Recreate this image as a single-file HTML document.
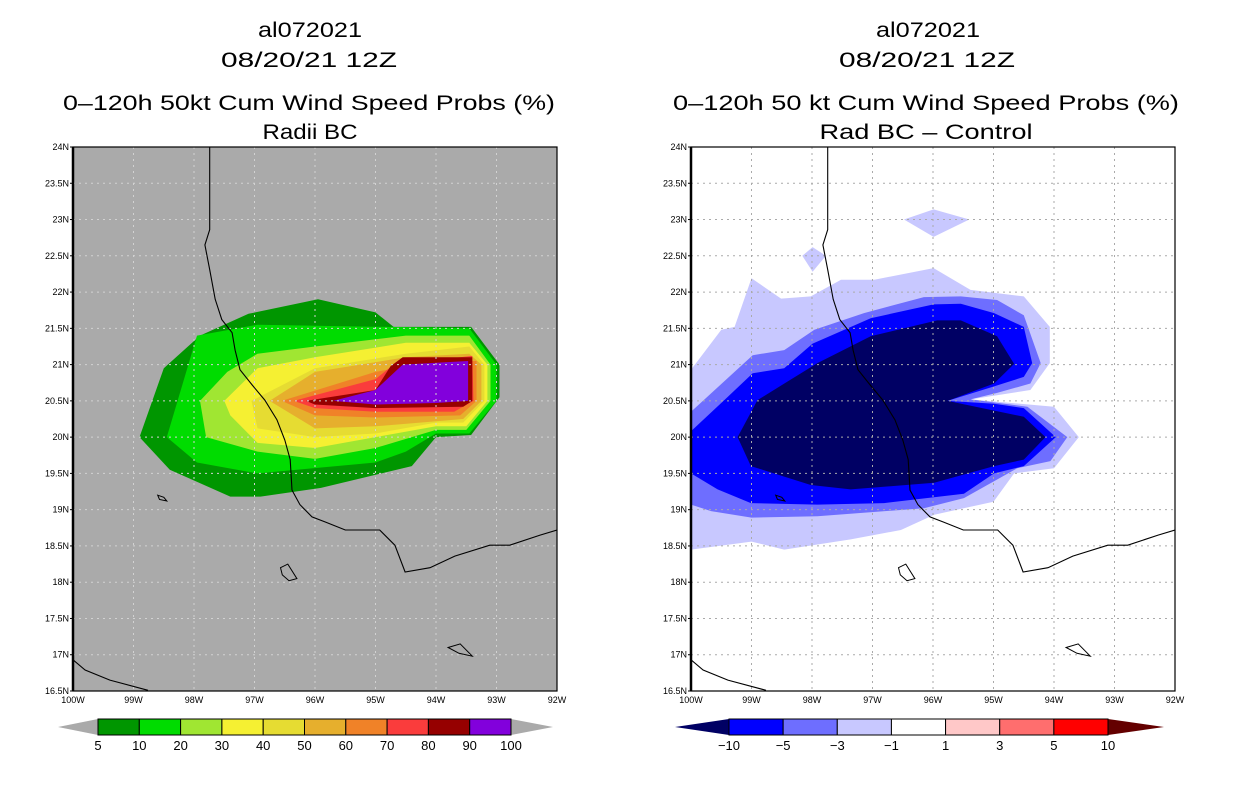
<!DOCTYPE html>
<html><head><meta charset="utf-8"><style>
body{margin:0;background:#fff;}
svg{display:block;font-family:"Liberation Sans",sans-serif;}
</style></head><body>
<svg id="c" width="1236" height="800" xmlns="http://www.w3.org/2000/svg">
<g id="left-titles" font-size="21" text-anchor="middle" fill="#000">
<text x="310" y="37" textLength="104" lengthAdjust="spacingAndGlyphs">al072021</text>
<text x="309" y="67" textLength="176" lengthAdjust="spacingAndGlyphs">08/20/21 12Z</text>
<text x="309" y="110" textLength="492" lengthAdjust="spacingAndGlyphs">0–120h 50kt Cum Wind Speed Probs (%)</text>
<text x="310" y="139" textLength="95" lengthAdjust="spacingAndGlyphs">Radii BC</text>
</g>
<g id="right-titles" font-size="21" text-anchor="middle" fill="#000">
<text x="928" y="37" textLength="104" lengthAdjust="spacingAndGlyphs">al072021</text>
<text x="927" y="67" textLength="176" lengthAdjust="spacingAndGlyphs">08/20/21 12Z</text>
<text x="926" y="110" textLength="506" lengthAdjust="spacingAndGlyphs">0–120h 50 kt Cum Wind Speed Probs (%)</text>
<text x="926" y="139" textLength="213" lengthAdjust="spacingAndGlyphs">Rad BC – Control</text>
</g>
</svg>
<script>
const lonTicks=[-100,-99,-98,-97,-96,-95,-94,-93,-92];
const lonLabels=["100W","99W","98W","97W","96W","95W","94W","93W","92W"];
const latTicks=[16.5,17,17.5,18,18.5,19,19.5,20,20.5,21,21.5,22,22.5,23,23.5,24];
const latLabels=["16.5N","17N","17.5N","18N","18.5N","19N","19.5N","20N","20.5N","21N","21.5N","22N","22.5N","23N","23.5N","24N"];
const leftLevels=[5,10,20,30,40,50,60,70,80,90,100];
const leftColors=["#009600","#00dc00","#a0e632","#f5f032","#e6dc32","#e6af2d","#f08228","#fa3c3c","#960000","#8200dc"];
const rightLevels=[-10,-5,-3,-1,1,3,5,10];
const rightColors=["#000064","#0000ff","#6e6eff","#c8c8ff","#ffffff","#ffc8c8","#ff6e6e","#ff0000","#640000"];
const probPoly5=[[-98.9,20.0],[-98.5,20.95],[-97.9,21.4],[-97.1,21.7],[-95.95,21.9],[-95.0,21.72],[-94.7,21.52],[-93.42,21.52],[-92.95,21.0],[-92.95,20.55],[-93.42,20.03],[-94.0,20.0],[-94.2,19.8],[-94.4,19.6],[-95.9,19.3],[-96.9,19.18],[-97.4,19.18],[-98.4,19.55]];
const probPoly10=[[-98.45,20.0],[-97.95,21.4],[-96.95,21.55],[-93.45,21.5],[-93.0,21.0],[-93.0,20.5],[-93.45,20.05],[-94.0,20.05],[-94.5,19.8],[-95.0,19.65],[-96.95,19.5],[-97.95,19.65]];
const probPoly20=[[-97.9,20.5],[-97.45,20.9],[-96.95,21.15],[-96.0,21.25],[-94.5,21.4],[-93.45,21.4],[-93.1,21.0],[-93.1,20.5],[-93.5,20.1],[-94.0,20.1],[-95.0,19.85],[-96.0,19.7],[-96.95,19.8],[-97.8,20.0]];
const probPoly30=[[-97.5,20.5],[-96.95,20.95],[-96.0,21.1],[-94.5,21.3],[-93.45,21.3],[-93.15,21.0],[-93.15,20.5],[-93.5,20.15],[-94.0,20.15],[-95.0,20.0],[-96.0,19.85],[-96.95,19.92],[-97.4,20.3]];
const probPoly40=[[-97.05,20.5],[-96.0,20.95],[-94.5,21.15],[-93.45,21.25],[-93.2,21.0],[-93.2,20.5],[-93.55,20.2],[-94.0,20.2],[-95.0,20.05],[-96.0,20.0],[-96.95,20.12]];
const probPoly50=[[-96.75,20.5],[-96.0,20.9],[-94.5,21.1],[-93.45,21.15],[-93.25,21.0],[-93.25,20.5],[-93.55,20.25],[-95.0,20.15],[-96.0,20.12]];
const probPoly60=[[-96.55,20.5],[-95.0,20.9],[-94.0,21.05],[-93.33,21.05],[-93.33,20.5],[-93.6,20.3],[-95.0,20.27],[-96.0,20.3]];
const probPoly70=[[-96.35,20.5],[-95.0,20.8],[-94.7,21.0],[-93.4,21.12],[-93.38,20.5],[-93.7,20.35],[-95.0,20.35],[-96.0,20.4]];
const probPoly80=[[-96.15,20.5],[-95.0,20.65],[-94.75,20.98],[-94.55,21.1],[-93.4,21.1],[-93.4,20.5],[-93.55,20.42],[-95.0,20.4],[-96.0,20.45]];
const probPoly90=[[-95.7,20.5],[-95.0,20.65],[-94.55,21.0],[-93.47,21.05],[-93.47,20.5],[-94.0,20.47],[-95.0,20.45]];
const leftPolys=[probPoly5,probPoly10,probPoly20,probPoly30,probPoly40,probPoly50,probPoly60,probPoly70,probPoly80,probPoly90];
const diffPolyM1=[[-100,20.93],[-99.5,21.48],[-99.28,21.52],[-99.0,22.19],[-98.51,21.91],[-98.02,21.94],[-97.52,22.17],[-96.97,22.17],[-95.99,22.33],[-95.38,22.03],[-94.5,21.94],[-94.07,21.52],[-94.07,21.02],[-94.39,20.65],[-95.38,20.52],[-94.0,20.42],[-93.59,20.0],[-94.0,19.57],[-94.66,19.5],[-95.0,19.11],[-95.98,18.93],[-96.53,18.72],[-97.36,18.59],[-98.46,18.45],[-99.0,18.56],[-100,18.45]];
const diffPatchA=[[-96.48,23.0],[-95.99,23.14],[-95.4,23.0],[-95.99,22.76]];
const diffPatchB=[[-98.16,22.5],[-97.99,22.62],[-97.77,22.5],[-97.99,22.28]];
const diffPolyM3=[[-100,20.35],[-99.45,20.77],[-98.98,21.13],[-98.46,21.2],[-97.96,21.48],[-97.14,21.71],[-96.15,21.93],[-95.54,21.94],[-94.94,21.89],[-94.5,21.68],[-94.22,21.02],[-94.39,20.74],[-94.94,20.61],[-95.38,20.52],[-94.44,20.42],[-93.78,20.0],[-94.06,19.67],[-94.61,19.57],[-95.49,19.16],[-96.15,19.02],[-97.91,18.91],[-99.0,18.89],[-99.67,18.98],[-100,19.07]];
const diffPolyM5=[[-100,20.08],[-99.45,20.51],[-98.98,20.88],[-98.46,20.95],[-97.99,21.29],[-97.03,21.64],[-95.99,21.83],[-95.54,21.84],[-94.99,21.71],[-94.5,21.52],[-94.36,21.02],[-94.5,20.83],[-94.99,20.7],[-95.76,20.5],[-94.99,20.46],[-94.5,20.4],[-93.97,20.0],[-94.5,19.6],[-94.99,19.5],[-95.49,19.22],[-96.81,19.09],[-97.91,19.07],[-99.01,19.09],[-99.56,19.28],[-100,19.5]];
const diffPolyM10=[[-99.23,20.0],[-98.9,20.51],[-97.91,21.02],[-97.03,21.39],[-95.93,21.61],[-95.54,21.61],[-94.94,21.39],[-94.66,21.01],[-94.99,20.74],[-95.76,20.5],[-94.5,20.28],[-94.14,20.0],[-94.5,19.69],[-94.99,19.6],[-95.98,19.37],[-97.36,19.28],[-98.02,19.34],[-99.01,19.6]];
const coastMain=[[-97.74,24.0],[-97.74,22.86],[-97.82,22.65],[-97.74,22.31],[-97.65,21.9],[-97.54,21.62],[-97.37,21.44],[-97.32,21.2],[-97.24,20.93],[-97.04,20.72],[-96.83,20.51],[-96.63,20.24],[-96.5,19.96],[-96.41,19.69],[-96.38,19.27],[-96.25,19.07],[-96.05,18.9],[-95.83,18.83],[-95.5,18.72],[-94.93,18.72],[-94.68,18.51],[-94.51,18.14],[-94.1,18.2],[-93.69,18.36],[-93.11,18.51],[-92.78,18.51],[-92.28,18.65],[-92.0,18.72]];
const coastSW=[[-100,16.93],[-99.8,16.79],[-99.39,16.65],[-98.76,16.51]];
const lakeA=[[-96.57,18.2],[-96.45,18.25],[-96.3,18.05],[-96.43,18.02],[-96.54,18.1]];
const lakeB=[[-93.8,17.1],[-93.6,17.15],[-93.4,16.98],[-93.62,17.02]];
const lakeC=[[-98.6,19.2],[-98.5,19.17],[-98.45,19.12],[-98.57,19.14]];

const NS="http://www.w3.org/2000/svg";
const svg=document.getElementById('c');
const PW=484,PH=544,PY=147;
function mk(tag,attrs,parent){const e=document.createElementNS(NS,tag);for(const k in attrs)e.setAttribute(k,attrs[k]);(parent||svg).appendChild(e);return e;}
function panel(x0){
  const sx=lon=>x0+(lon-lonTicks[0])/(lonTicks[lonTicks.length-1]-lonTicks[0])*PW;
  const sy=lat=>PY+PH-(lat-latTicks[0])/(latTicks[latTicks.length-1]-latTicks[0])*PH;
  const pts=p=>p.map(q=>sx(q[0]).toFixed(1)+","+sy(q[1]).toFixed(1)).join(" ");
  return {sx,sy,pts};
}
function drawPanel(x0,bg,polys,colors,gridColor,pfx){
  const P=panel(x0);
  const g=mk('g',{});
  
  
  const cp=mk('clipPath',{id:pfx+'clip'},g);
  mk('rect',{x:x0,y:PY,width:PW,height:PH},cp);
  const bgR=mk('rect',{x:x0,y:PY,width:PW,height:PH,fill:bg},g);
  
  
  const cg=mk('g',{'clip-path':'url(#'+pfx+'clip)'},g);
  polys.forEach((p,i)=>{
    const e=mk('polygon',{points:P.pts(p),fill:colors[i]},cg);
    
    
  });
  lonTicks.forEach((lon,i)=>{
    if(i>0&&i<lonTicks.length-1){
      const l=mk('line',{x1:P.sx(lon),x2:P.sx(lon),y1:PY,y2:PY+PH,stroke:gridColor,'stroke-dasharray':'2,4','stroke-width':1},cg);
      
      
    }
    const t=mk('text',{x:P.sx(lon),y:PY+PH+12,'font-size':9,'text-anchor':'middle'},g);
    t.textContent=lonLabels[i];
    
    
  });
  latTicks.forEach((lat,i)=>{
    if(i>0&&i<latTicks.length-1){
      const l=mk('line',{x1:x0,x2:x0+PW,y1:P.sy(lat),y2:P.sy(lat),stroke:gridColor,'stroke-dasharray':'2,4','stroke-width':1},cg);
      
      
    }
    mk('line',{x1:x0-3,x2:x0,y1:P.sy(lat),y2:P.sy(lat),stroke:'#000'},g);
    const t=mk('text',{x:x0-4,y:P.sy(lat)+3,'font-size':9,'text-anchor':'end'},g);
    t.textContent=latLabels[i];
    
    
  });
  [coastMain,coastSW].forEach(c=>{
    const e=mk('polyline',{points:P.pts(c),fill:'none',stroke:'#000','stroke-width':1.1},cg);
    
    
  });
  [lakeA,lakeB,lakeC].forEach(c=>{
    const e=mk('polygon',{points:P.pts(c),fill:'none',stroke:'#000','stroke-width':1},cg);
    
    
  });
  const fr=mk('rect',{x:x0,y:PY,width:PW,height:PH,fill:'none',stroke:'#000','stroke-width':1.2},g);
  
  
  mk('line',{x1:x0,x2:x0,y1:PY,y2:PY+PH,stroke:'#000','stroke-width':2.5},g);
}
drawPanel(73,'#aaaaaa',leftPolys,leftColors,'#d2d2d2','left');
drawPanel(691,'#ffffff',[diffPolyM1,diffPatchA,diffPatchB,diffPolyM3,diffPolyM5,diffPolyM10],[rightColors[3],rightColors[3],rightColors[3],rightColors[2],rightColors[1],rightColors[0]],'#aaaaaa','right');

function colorbar(x0,x1,tipL,tipR,levels,colors,lowTri,highTri,pfx){
  const g=mk('g',{});
  
  
  const y0=719,y1=735,ym=727;
  const n=levels.length-1,w=(x1-x0)/n;
  const a=mk('polygon',{points:`${tipL},${ym} ${x0},${y0} ${x0},${y1}`,fill:lowTri},g);
  
  
  const b=mk('polygon',{points:`${tipR},${ym} ${x1},${y0} ${x1},${y1}`,fill:highTri},g);
  
  
  for(let i=0;i<n;i++){
    const r=mk('rect',{x:x0+i*w,y:y0,width:w,height:y1-y0,fill:colors[i],stroke:'#000','stroke-width':1},g);
    
    
  }
  levels.forEach((v,i)=>{
    const t=mk('text',{x:x0+i*w,y:750,'font-size':13,'text-anchor':'middle'},g);
    t.textContent=v<0?'−'+(-v):String(v);
    
    
  });
}
colorbar(98,511,58,553,leftLevels,leftColors,'#aaaaaa','#aaaaaa','left');
colorbar(729,1108,675,1164,rightLevels,rightColors.slice(1,8),rightColors[0],rightColors[8],'right');
</script>
</body></html>
